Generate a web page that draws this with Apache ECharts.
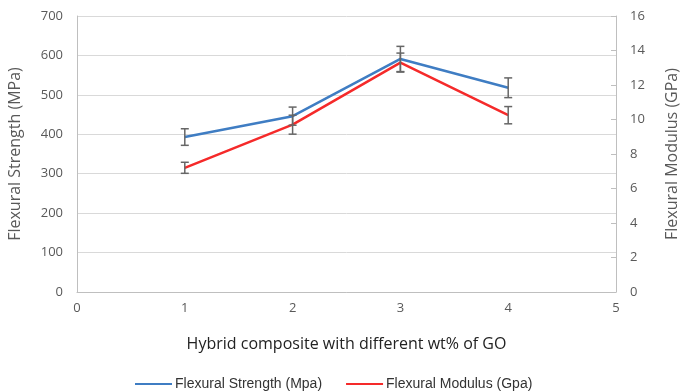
<!DOCTYPE html>
<html><head><meta charset="utf-8">
<script src="https://cdn.jsdelivr.net/npm/echarts@6/dist/echarts.min.js"></script>
<style>html,body{margin:0;padding:0;background:#fff}#c{width:682px;height:392px}</style>
</head><body><div id="c"></div>
<script>
const xValues = [1, 2, 3, 4];
const strength = [393, 446, 591, 518];
const strengthErr = [21, 23, 32, 25];
const modulus = [7.2, 9.7, 13.3, 10.25];
const modulusErr = [0.32, 0.55, 0.55, 0.5];
const xTicks = [0, 1, 2, 3, 4, 5];

const chart = echarts.init(document.getElementById('c'));
function errSeries(vals, errs, yIdx) {
  return {
    type: 'custom', yAxisIndex: yIdx, z: 5,
    data: xValues.map((x, i) => [x, vals[i] - errs[i], vals[i] + errs[i]]),
    renderItem: function (params, api) {
      const lo = api.coord([api.value(0), api.value(1)]);
      const hi = api.coord([api.value(0), api.value(2)]);
      const w = 4;
      const st = {stroke: '#666', lineWidth: 1.5};
      return {type: 'group', children: [
        {type: 'line', shape: {x1: lo[0], y1: lo[1], x2: hi[0], y2: hi[1]}, style: st},
        {type: 'line', shape: {x1: lo[0]-w, y1: lo[1], x2: lo[0]+w, y2: lo[1]}, style: st},
        {type: 'line', shape: {x1: hi[0]-w, y1: hi[1], x2: hi[0]+w, y2: hi[1]}, style: st}
      ]};
    },
    silent: true
  };
}
const font = 'Open Sans, Noto Sans, sans-serif';
chart.setOption({
  animation: false,
  textStyle: {fontFamily: font},
  grid: {left: 77, right: 66, top: 16, bottom: 100, containLabel: false, outerBoundsMode: 'none'},
  legend: {
    top: 372, left: 130, itemWidth: 37, itemHeight: 2, itemGap: 24,
    icon: 'rect',
    textStyle: {fontSize: 14, color: '#333', fontFamily: 'Liberation Sans, Arial, sans-serif', padding: [0, 0, 0, -2]},
    data: ['Flexural Strength (Mpa)', 'Flexural Modulus (Gpa)']
  },
  xAxis: {
    type: 'value', min: xTicks[0], max: xTicks[xTicks.length - 1], interval: 1,
    name: 'Hybrid composite with different wt% of GO', nameLocation: 'middle', nameGap: 44,
    nameTextStyle: {fontSize: 16, color: '#222'},
    axisLine: {lineStyle: {color: '#bfbfbf'}},
    axisTick: {show: false},
    axisLabel: {fontSize: 13, color: '#595959', margin: 10},
    splitLine: {show: false}
  },
  yAxis: [{
    type: 'value', min: 0, max: 700, interval: 100,
    name: 'Flexural Strength (MPa)', nameLocation: 'middle', nameGap: 54,
    nameTextStyle: {fontSize: 16, color: '#595959'},
    axisLine: {show: true, lineStyle: {color: '#bfbfbf'}},
    axisTick: {show: false},
    axisLabel: {fontSize: 13, color: '#595959', margin: 14},
    splitLine: {lineStyle: {color: '#d9d9d9'}}
  }, {
    type: 'value', min: 0, max: 16, interval: 2,
    name: 'Flexural Modulus (GPa)', nameLocation: 'middle', nameGap: 48, nameRotate: 90,
    nameTextStyle: {fontSize: 16, color: '#595959'},
    axisLine: {show: true, lineStyle: {color: '#bfbfbf'}},
    axisTick: {show: true, inside: true, length: 5, lineStyle: {color: '#bfbfbf'}},
    axisLabel: {fontSize: 13, color: '#595959', margin: 14},
    splitLine: {show: false}
  }],
  series: [{
    name: 'Flexural Strength (Mpa)', type: 'line', yAxisIndex: 0,
    data: xValues.map((x, i) => [x, strength[i]]),
    symbol: 'none', lineStyle: {color: '#3f7dc3', width: 2.5}, itemStyle: {color: '#3f7dc3'}
  }, {
    name: 'Flexural Modulus (Gpa)', type: 'line', yAxisIndex: 1,
    data: xValues.map((x, i) => [x, modulus[i]]),
    symbol: 'none', lineStyle: {color: '#f52a2a', width: 2.5}, itemStyle: {color: '#f52a2a'}
  },
  errSeries(strength, strengthErr, 0),
  errSeries(modulus, modulusErr, 1)]
});
</script></body></html>
